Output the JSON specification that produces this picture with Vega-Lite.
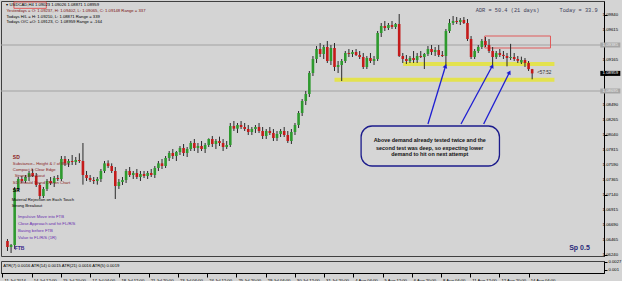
{
"$schema": "https://vega.github.io/schema/vega-lite/v6.json",
"background": "#d4d4d4",
"padding": 0,
"spacing": 1,
"config": {"view": {"stroke": "#404040", "strokeWidth": 1, "fill": "#d4d4d4"}, "font": "Liberation Sans", "axis": {"labelFont": "Liberation Sans", "labelColor": "#000000", "domainColor": "#000000", "tickColor": "#000000", "grid": false}},
"datasets": {
"candles": [
{"i":0,"o":1.06445,"h":1.06475,"l":1.06295,"c":1.06355},
{"i":1,"o":1.06355,"h":1.064,"l":1.06265,"c":1.06385},
{"i":2,"o":1.06385,"h":1.07255,"l":1.06325,"c":1.07225},
{"i":3,"o":1.07225,"h":1.07405,"l":1.07195,"c":1.07375},
{"i":4,"o":1.07375,"h":1.0742,"l":1.07315,"c":1.07345},
{"i":5,"o":1.07345,"h":1.07435,"l":1.07315,"c":1.07405},
{"i":6,"o":1.07405,"h":1.07495,"l":1.07345,"c":1.07465},
{"i":7,"o":1.07465,"h":1.07525,"l":1.07405,"c":1.0742},
{"i":8,"o":1.0742,"h":1.07465,"l":1.07255,"c":1.07285},
{"i":9,"o":1.07285,"h":1.07315,"l":1.07075,"c":1.0712},
{"i":10,"o":1.0712,"h":1.07255,"l":1.0709,"c":1.07225},
{"i":11,"o":1.07225,"h":1.07375,"l":1.07195,"c":1.07345},
{"i":12,"o":1.07345,"h":1.07405,"l":1.07285,"c":1.07315},
{"i":13,"o":1.07315,"h":1.0742,"l":1.07255,"c":1.0739},
{"i":14,"o":1.0739,"h":1.07435,"l":1.07345,"c":1.07375},
{"i":15,"o":1.07375,"h":1.0772,"l":1.07345,"c":1.07675},
{"i":16,"o":1.07675,"h":1.0772,"l":1.0757,"c":1.0761},
{"i":17,"o":1.0761,"h":1.07675,"l":1.07555,"c":1.07645},
{"i":18,"o":1.07645,"h":1.07735,"l":1.07585,"c":1.0763},
{"i":19,"o":1.0763,"h":1.07705,"l":1.07585,"c":1.0766},
{"i":20,"o":1.0766,"h":1.0776,"l":1.07615,"c":1.07645},
{"i":21,"o":1.07645,"h":1.07915,"l":1.0729,"c":1.07435},
{"i":22,"o":1.07435,"h":1.07495,"l":1.07345,"c":1.0739},
{"i":23,"o":1.0739,"h":1.07435,"l":1.0733,"c":1.0736},
{"i":24,"o":1.0736,"h":1.07405,"l":1.073,"c":1.07345},
{"i":25,"o":1.07345,"h":1.07405,"l":1.0729,"c":1.07375},
{"i":26,"o":1.07375,"h":1.07525,"l":1.0733,"c":1.07495},
{"i":27,"o":1.07495,"h":1.07645,"l":1.07465,"c":1.0761},
{"i":28,"o":1.0761,"h":1.07655,"l":1.0754,"c":1.0757},
{"i":29,"o":1.0757,"h":1.0761,"l":1.07465,"c":1.07495},
{"i":30,"o":1.07495,"h":1.07555,"l":1.07075,"c":1.0727},
{"i":31,"o":1.0727,"h":1.07375,"l":1.07225,"c":1.0733},
{"i":32,"o":1.0733,"h":1.07405,"l":1.07285,"c":1.0736},
{"i":33,"o":1.0736,"h":1.07525,"l":1.07315,"c":1.07495},
{"i":34,"o":1.07495,"h":1.07555,"l":1.07405,"c":1.07435},
{"i":35,"o":1.07435,"h":1.07495,"l":1.07375,"c":1.07465},
{"i":36,"o":1.07465,"h":1.07525,"l":1.07375,"c":1.07405},
{"i":37,"o":1.07405,"h":1.07495,"l":1.07345,"c":1.0745},
{"i":38,"o":1.0745,"h":1.07495,"l":1.0739,"c":1.0742},
{"i":39,"o":1.0742,"h":1.07495,"l":1.07375,"c":1.07465},
{"i":40,"o":1.07465,"h":1.07525,"l":1.07405,"c":1.07435},
{"i":41,"o":1.07435,"h":1.0757,"l":1.0739,"c":1.0754},
{"i":42,"o":1.0754,"h":1.07645,"l":1.07495,"c":1.0761},
{"i":43,"o":1.0761,"h":1.07675,"l":1.07525,"c":1.0757},
{"i":44,"o":1.0757,"h":1.0772,"l":1.0754,"c":1.0769},
{"i":45,"o":1.0769,"h":1.07795,"l":1.07645,"c":1.07765},
{"i":46,"o":1.07765,"h":1.07825,"l":1.07675,"c":1.0772},
{"i":47,"o":1.0772,"h":1.07795,"l":1.07645,"c":1.0778},
{"i":48,"o":1.0778,"h":1.0787,"l":1.07735,"c":1.0784},
{"i":49,"o":1.0784,"h":1.079,"l":1.0772,"c":1.07765},
{"i":50,"o":1.07765,"h":1.07855,"l":1.07705,"c":1.07825},
{"i":51,"o":1.07825,"h":1.07945,"l":1.07795,"c":1.07915},
{"i":52,"o":1.07915,"h":1.07975,"l":1.07795,"c":1.0784},
{"i":53,"o":1.0784,"h":1.07915,"l":1.07765,"c":1.0787},
{"i":54,"o":1.0787,"h":1.07945,"l":1.07795,"c":1.07825},
{"i":55,"o":1.07825,"h":1.07915,"l":1.07765,"c":1.07885},
{"i":56,"o":1.07885,"h":1.07985,"l":1.07855,"c":1.07975},
{"i":57,"o":1.07975,"h":1.0802,"l":1.07855,"c":1.079},
{"i":58,"o":1.079,"h":1.07975,"l":1.07825,"c":1.07945},
{"i":59,"o":1.07945,"h":1.0801,"l":1.0787,"c":1.07915},
{"i":60,"o":1.07915,"h":1.07975,"l":1.07795,"c":1.07855},
{"i":61,"o":1.07855,"h":1.07945,"l":1.07825,"c":1.07885},
{"i":62,"o":1.07885,"h":1.08215,"l":1.07855,"c":1.0817},
{"i":63,"o":1.0817,"h":1.08245,"l":1.08095,"c":1.0813},
{"i":64,"o":1.0813,"h":1.08215,"l":1.08065,"c":1.08185},
{"i":65,"o":1.08185,"h":1.08245,"l":1.08125,"c":1.08155},
{"i":66,"o":1.08155,"h":1.08215,"l":1.08095,"c":1.08125},
{"i":67,"o":1.08125,"h":1.08185,"l":1.08035,"c":1.0808},
{"i":68,"o":1.0808,"h":1.08155,"l":1.08035,"c":1.08125},
{"i":69,"o":1.08125,"h":1.08185,"l":1.08065,"c":1.08155},
{"i":70,"o":1.08155,"h":1.08215,"l":1.08065,"c":1.08095},
{"i":71,"o":1.08095,"h":1.08155,"l":1.07975,"c":1.0802},
{"i":72,"o":1.0802,"h":1.08125,"l":1.07975,"c":1.08095},
{"i":73,"o":1.08095,"h":1.08155,"l":1.08035,"c":1.08065},
{"i":74,"o":1.08065,"h":1.08125,"l":1.07945,"c":1.0799},
{"i":75,"o":1.0799,"h":1.08095,"l":1.07945,"c":1.0805},
{"i":76,"o":1.0805,"h":1.08125,"l":1.08005,"c":1.08095},
{"i":77,"o":1.08095,"h":1.08155,"l":1.08005,"c":1.08035},
{"i":78,"o":1.08035,"h":1.08095,"l":1.07915,"c":1.07945},
{"i":79,"o":1.07945,"h":1.08125,"l":1.079,"c":1.0808},
{"i":80,"o":1.0808,"h":1.08215,"l":1.08035,"c":1.08185},
{"i":81,"o":1.08185,"h":1.08395,"l":1.0814,"c":1.08365},
{"i":82,"o":1.08365,"h":1.08575,"l":1.0832,"c":1.08545},
{"i":83,"o":1.08545,"h":1.08695,"l":1.08485,"c":1.0865},
{"i":84,"o":1.0865,"h":1.08995,"l":1.08605,"c":1.08965},
{"i":85,"o":1.08965,"h":1.0922,"l":1.0892,"c":1.09175},
{"i":86,"o":1.09175,"h":1.0937,"l":1.09115,"c":1.09325},
{"i":87,"o":1.09325,"h":1.09415,"l":1.09205,"c":1.0925},
{"i":88,"o":1.0925,"h":1.09385,"l":1.09175,"c":1.09355},
{"i":89,"o":1.09355,"h":1.09445,"l":1.09115,"c":1.09145},
{"i":90,"o":1.09145,"h":1.09385,"l":1.09085,"c":1.0934},
{"i":91,"o":1.0934,"h":1.09415,"l":1.08995,"c":1.09055},
{"i":92,"o":1.09055,"h":1.09145,"l":1.08965,"c":1.09085},
{"i":93,"o":1.09085,"h":1.09175,"l":1.08845,"c":1.09145},
{"i":94,"o":1.09145,"h":1.09295,"l":1.09115,"c":1.09265},
{"i":95,"o":1.09265,"h":1.09325,"l":1.09205,"c":1.0925},
{"i":96,"o":1.0925,"h":1.0931,"l":1.09205,"c":1.0928},
{"i":97,"o":1.0928,"h":1.09325,"l":1.0922,"c":1.09235},
{"i":98,"o":1.09235,"h":1.09295,"l":1.09175,"c":1.09205},
{"i":99,"o":1.09205,"h":1.09265,"l":1.09025,"c":1.09055},
{"i":100,"o":1.09055,"h":1.0922,"l":1.09025,"c":1.0919},
{"i":101,"o":1.0919,"h":1.09265,"l":1.09115,"c":1.09145},
{"i":102,"o":1.09145,"h":1.0922,"l":1.09085,"c":1.09175},
{"i":103,"o":1.09175,"h":1.09595,"l":1.09145,"c":1.09565},
{"i":104,"o":1.09565,"h":1.09715,"l":1.09505,"c":1.0967},
{"i":105,"o":1.0967,"h":1.09745,"l":1.09595,"c":1.0964},
{"i":106,"o":1.0964,"h":1.09715,"l":1.0961,"c":1.09685},
{"i":107,"o":1.09685,"h":1.09745,"l":1.09625,"c":1.09655},
{"i":108,"o":1.09655,"h":1.09715,"l":1.09625,"c":1.097},
{"i":109,"o":1.097,"h":1.0985,"l":1.09205,"c":1.0922},
{"i":110,"o":1.0922,"h":1.09265,"l":1.09115,"c":1.09175},
{"i":111,"o":1.09175,"h":1.09235,"l":1.091,"c":1.09145},
{"i":112,"o":1.09145,"h":1.0922,"l":1.09115,"c":1.0919},
{"i":113,"o":1.0919,"h":1.09295,"l":1.09115,"c":1.0916},
{"i":114,"o":1.0916,"h":1.09265,"l":1.09115,"c":1.0922},
{"i":115,"o":1.0922,"h":1.09295,"l":1.0919,"c":1.09205},
{"i":116,"o":1.09205,"h":1.09265,"l":1.09025,"c":1.0925},
{"i":117,"o":1.0925,"h":1.0937,"l":1.0922,"c":1.09325},
{"i":118,"o":1.09325,"h":1.09385,"l":1.09235,"c":1.0928},
{"i":119,"o":1.0928,"h":1.09355,"l":1.0922,"c":1.0931},
{"i":120,"o":1.0931,"h":1.09385,"l":1.09205,"c":1.09235},
{"i":121,"o":1.09235,"h":1.09295,"l":1.09205,"c":1.0922},
{"i":122,"o":1.0922,"h":1.09625,"l":1.0907,"c":1.09595},
{"i":123,"o":1.09595,"h":1.09775,"l":1.09565,"c":1.09715},
{"i":124,"o":1.09715,"h":1.0982,"l":1.09685,"c":1.09745},
{"i":125,"o":1.09745,"h":1.09805,"l":1.097,"c":1.0973},
{"i":126,"o":1.0973,"h":1.0979,"l":1.09685,"c":1.0976},
{"i":127,"o":1.0976,"h":1.09805,"l":1.097,"c":1.09715},
{"i":128,"o":1.09715,"h":1.09775,"l":1.09445,"c":1.09475},
{"i":129,"o":1.09475,"h":1.0952,"l":1.09175,"c":1.09205},
{"i":130,"o":1.09205,"h":1.09325,"l":1.09175,"c":1.09295},
{"i":131,"o":1.09295,"h":1.09385,"l":1.09265,"c":1.09355},
{"i":132,"o":1.09355,"h":1.09475,"l":1.09325,"c":1.09445},
{"i":133,"o":1.09445,"h":1.09505,"l":1.09355,"c":1.09385},
{"i":134,"o":1.09385,"h":1.09475,"l":1.09265,"c":1.09295},
{"i":135,"o":1.09295,"h":1.09355,"l":1.09055,"c":1.09205},
{"i":136,"o":1.09205,"h":1.09295,"l":1.09175,"c":1.09265},
{"i":137,"o":1.09265,"h":1.09325,"l":1.09205,"c":1.09235},
{"i":138,"o":1.09237,"h":1.09295,"l":1.09175,"c":1.0922},
{"i":139,"o":1.0922,"h":1.09265,"l":1.09065,"c":1.0919},
{"i":140,"o":1.0919,"h":1.09402,"l":1.0916,"c":1.09205},
{"i":141,"o":1.09205,"h":1.09265,"l":1.09145,"c":1.09175},
{"i":142,"o":1.09175,"h":1.0922,"l":1.09115,"c":1.09148},
{"i":143,"o":1.09123,"h":1.0921,"l":1.091,"c":1.0916},
{"i":144,"o":1.0916,"h":1.0919,"l":1.09055,"c":1.09115},
{"i":145,"o":1.09115,"h":1.09145,"l":1.08995,"c":1.09023},
{"i":146,"o":1.09023,"h":1.09026,"l":1.08871,"c":1.08959}
],
"notes": [
{"g":"info","i":-0.3,"p":1.09985,"txt":"▾ USDCAD,H4  1.09023 1.09026 1.08871 1.08959"},
{"g":"infoRed","i":-0.3,"p":1.09895,"txt":"Yesterdays = O: 1.09237, H: 1.09402, L: 1.09065, C: 1.09148 Range = 337"},
{"g":"info","i":-0.3,"p":1.0981,"txt":"Todays H/L = H: 1.09210, L: 1.08871 Range = 339"},
{"g":"info","i":-0.3,"p":1.09725,"txt":"Todays O/C =O: 1.09123, C: 1.08959 Range = -164"},
{"g":"red","i":1.5,"p":1.076,"txt":"Substance– Height & # of Bars"},
{"g":"red","i":1.5,"p":1.0751,"txt":"Compact & Clear Edge"},
{"g":"red","i":2.0,"p":1.0742,"txt":"Strong Breakout"},
{"g":"red","i":1.5,"p":1.07315,"txt":"SD Should Stand Out on Chart"},
{"g":"black","i":1.2,"p":1.0706,"txt":"Material Rejection on Each Touch"},
{"g":"black","i":1.2,"p":1.0697,"txt":"Strong Breakout"},
{"g":"purple","i":2.9,"p":1.06805,"txt":"Impulsive Move into FTB"},
{"g":"purple","i":2.9,"p":1.067,"txt":"Close Approach and hit FL/R/S"},
{"g":"purple","i":2.9,"p":1.06595,"txt":"Basing before FTB"},
{"g":"purple","i":2.9,"p":1.0649,"txt":"Value to FL/R/S (1R)"}
],
"bold": [
{"g":"red","i":1.5,"p":1.07705,"txt":"SD"},
{"g":"black","i":1.5,"p":1.0721,"txt":"SR"},
{"g":"ftb","i":2.0,"p":1.0634,"txt":"FTB"}
],
"box": [
{"i":117.5,"p":1.07955,"txt":"Above demand already tested twice and the"},
{"i":117.5,"p":1.07845,"txt":"second test was deep, so expecting lower"},
{"i":117.5,"p":1.07745,"txt":"demand to hit on next attempt"}
],
"arrows": [
{"k":"a1","i1":117.0,"p1":1.082,"i2":121.9,"p2":1.0907},
{"k":"a2","i1":126.2,"p1":1.082,"i2":134.9,"p2":1.0907},
{"k":"a3","i1":132.5,"p1":1.082,"i2":139.7,"p2":1.08975}
],
"ylabels": [
{"p":1.0624,"txt":"1.06240"},{"p":1.06465,"txt":"1.06465"},{"p":1.0669,"txt":"1.06690"},{"p":1.06915,"txt":"1.06915"},{"p":1.0714,"txt":"1.07140"},{"p":1.07365,"txt":"1.07365"},{"p":1.0759,"txt":"1.07590"},{"p":1.07815,"txt":"1.07815"},{"p":1.0804,"txt":"1.08040"},{"p":1.08265,"txt":"1.08265"},{"p":1.0849,"txt":"1.08490"},{"p":1.09165,"txt":"1.09165"},{"p":1.09615,"txt":"1.09615"},{"p":1.0984,"txt":"1.09840"}
],
"tags": [
{"kind":"grey","p":1.09385,"txt":"1.09385"},
{"kind":"black","p":1.08959,"txt":"1.08959"},
{"kind":"grey","p":1.08695,"txt":"1.08695"}
]
},
"vconcat": [
{
"width": 603,
"height": 255,
"resolve": {"scale": {"color": "independent"}},
"layer": [
{
"data": {"values": [{"p":1.09385},{"p":1.08695}]},
"mark": {"type":"rule","color":"#a2a2a2","strokeWidth":1},
"encoding": {"y": {"field":"p","type":"quantitative","title":null,"scale":{"domain":[1.0622,1.10045],"nice":false,"zero":false},"axis":{"orient":"right","values":[1.0624,1.06465,1.0669,1.06915,1.0714,1.07365,1.0759,1.07815,1.0804,1.08265,1.0849,1.08715,1.0894,1.09165,1.0939,1.09615,1.0984],"labels":false,"tickSize":3}}}
},
{
"data": {"values": [{"i1":110.1,"i2":152.2,"p":1.091},{"i1":91.0,"i2":152.2,"p":1.08865}]},
"mark": {"type":"rule","color":"#e3e24e","strokeWidth":4},
"encoding": {"x": {"field":"i1","type":"quantitative","title":null,"axis":null,"scale":{"domain":[-0.41,164.6],"nice":false,"zero":false}},"x2":{"field":"i2"},"y":{"field":"p","type":"quantitative","title":null}}
},
{
"data": {"values": [{"i1":132.8,"i2":151.1,"p1":1.0952,"p2":1.0934},{"i1":1.8,"i2":10.8,"p1":1.1003,"p2":1.09935}]},
"mark": {"type":"rect","stroke":"#e05a5a","strokeWidth":1,"fillOpacity":0},
"encoding": {"x": {"field":"i1","type":"quantitative","title":null,"axis":null},"x2":{"field":"i2"},"y":{"field":"p1","type":"quantitative","title":null},"y2":{"field":"p2"}}
},
{
"data": {"name":"candles"},
"mark": {"type":"rule","color":"#2a2a2a","strokeWidth":1},
"encoding": {"x": {"field":"i","type":"quantitative","title":null,"axis":null},"y":{"field":"l","type":"quantitative","title":null},"y2":{"field":"h"}}
},
{
"data": {"name":"candles"},
"mark": {"type":"bar","size":2.6},
"encoding": {"x": {"field":"i","type":"quantitative","title":null,"axis":null},"y":{"field":"o","type":"quantitative","title":null},"y2":{"field":"c"},"color":{"condition":{"test":"datum.c >= datum.o","value":"#2e9a2e"},"value":"#c41a1a"}}
},
{
"data": {"values": [{"i1":98.4,"i2":136.9,"p1":1.0817,"p2":1.0757}]},
"mark": {"type":"rect","stroke":"#1c1c8c","strokeWidth":1.3,"fill":"#d6d6d6","cornerRadius":11},
"encoding": {"x": {"field":"i1","type":"quantitative","title":null,"axis":null},"x2":{"field":"i2"},"y":{"field":"p1","type":"quantitative","title":null},"y2":{"field":"p2"}}
},
{
"data": {"name":"box"},
"mark": {"type":"text","fontSize":5.4,"fontWeight":"bold","align":"center","baseline":"middle","color":"#111111"},
"encoding": {"x": {"field":"i","type":"quantitative","title":null,"axis":null},"y":{"field":"p","type":"quantitative","title":null},"text":{"field":"txt"}}
},
{
"data": {"name":"arrows"},
"mark": {"type":"rule","color":"#1e1ed2","strokeWidth":1.3},
"encoding": {"x": {"field":"i1","type":"quantitative","title":null,"axis":null},"x2":{"field":"i2"},"y":{"field":"p1","type":"quantitative","title":null},"y2":{"field":"p2"}}
},
{
"data": {"name":"arrows"},
"mark": {"type":"point","shape":"triangle-up","filled":true,"color":"#1e1ed2","size":22,"opacity":1},
"encoding": {"x": {"field":"i2","type":"quantitative","title":null,"axis":null},"y":{"field":"p2","type":"quantitative","title":null},"angle":{"field":"k","type":"nominal","scale":{"domain":["a1","a2","a3"],"range":[17,29,28]},"legend":null}}
},
{
"data": {"name":"notes"},
"mark": {"type":"text","fontSize":4.2,"align":"left","baseline":"middle"},
"encoding": {"x": {"field":"i","type":"quantitative","title":null,"axis":null},"y":{"field":"p","type":"quantitative","title":null},"text":{"field":"txt"},"color":{"field":"g","type":"nominal","legend":null,"scale":{"domain":["info","infoRed","red","black","purple"],"range":["#000000","#7a1010","#8b1c1c","#000000","#6a2fb0"]}}}
},
{
"data": {"name":"bold"},
"mark": {"type":"text","fontSize":5,"fontWeight":"bold","align":"left","baseline":"middle"},
"encoding": {"x": {"field":"i","type":"quantitative","title":null,"axis":null},"y":{"field":"p","type":"quantitative","title":null},"text":{"field":"txt"},"color":{"field":"g","type":"nominal","legend":null,"scale":{"domain":["red","black","ftb"],"range":["#8b1c1c","#000000","#3a2a8a"]}}}
},
{
"data": {"values": [{"i":130.3,"p":1.0991,"txt":"ADR = 50.4  (21 days)"},{"i":153.6,"p":1.0991,"txt":"Today = 33.9"}]},
"mark": {"type":"text","font":"Liberation Mono","fontSize":5.3,"align":"left","baseline":"middle","color":"#404058"},
"encoding": {"x": {"field":"i","type":"quantitative","title":null,"axis":null},"y":{"field":"p","type":"quantitative","title":null},"text":{"field":"txt"}}
},
{
"data": {"values": [{"i":156.3,"p":1.0634,"txt":"Sp 0.5"}]},
"mark": {"type":"text","fontSize":7,"fontWeight":"bold","align":"left","baseline":"middle","color":"#2a2a7a"},
"encoding": {"x": {"field":"i","type":"quantitative","title":null,"axis":null},"y":{"field":"p","type":"quantitative","title":null},"text":{"field":"txt"}}
},
{
"data": {"values": [{"i":147.4,"p":1.0896,"txt":"<57:52"}]},
"mark": {"type":"text","fontSize":4.6,"align":"left","baseline":"middle","color":"#303030"},
"encoding": {"x": {"field":"i","type":"quantitative","title":null,"axis":null},"y":{"field":"p","type":"quantitative","title":null},"text":{"field":"txt"}}
},
{
"data": {"name":"ylabels"},
"mark": {"type":"text","fontSize":4.3,"align":"left","baseline":"middle","color":"#000000"},
"encoding": {"x":{"datum":165.6,"type":"quantitative"},"y":{"field":"p","type":"quantitative","title":null},"text":{"field":"txt"}}
},
{
"data": {"name":"tags"},
"mark": {"type":"tick","orient":"horizontal","size":20,"thickness":5,"opacity":1},
"encoding": {"x":{"datum":167.75,"type":"quantitative"},"y":{"field":"p","type":"quantitative","title":null},"color":{"field":"kind","type":"nominal","legend":null,"scale":{"domain":["grey","black"],"range":["#a6a6a6","#000000"]}}}
},
{
"data": {"name":"tags"},
"mark": {"type":"text","fontSize":4.3,"align":"left","baseline":"middle"},
"encoding": {"x":{"datum":165.6,"type":"quantitative"},"y":{"field":"p","type":"quantitative","title":null},"text":{"field":"txt"},"color":{"field":"kind","type":"nominal","legend":null,"scale":{"domain":["grey","black"],"range":["#ececec","#ffffff"]}}}
}
]
},
{
"width": 603,
"height": 12,
"data": {"values": [{"i":0.2,"v":0.00185,"txt":"ATR(7) 0.0016  ATR(14) 0.0015  ATR(21) 0.0016  ATR(5) 0.0019"}]},
"mark": {"type":"text","fontSize":4.2,"align":"left","baseline":"middle","color":"#000000"},
"encoding": {
"x": {"field":"i","type":"quantitative","title":null,"scale":{"domain":[-0.41,164.6],"nice":false,"zero":false},"axis":{"values":[0,8,16,24,32,40,48,56,64,72,80,88,96,104,112,120,128,136,144],"labelExpr":"['11 Jul 2014','14 Jul 12:00','15 Jul 20:00','17 Jul 04:00','18 Jul 12:00','21 Jul 20:00','23 Jul 04:00','24 Jul 12:00','25 Jul 20:00','29 Jul 04:00','30 Jul 12:00','31 Jul 20:00','4 Aug 04:00','5 Aug 12:00','6 Aug 20:00','8 Aug 04:00','11 Aug 12:00','12 Aug 20:00','14 Aug 04:00'][round(datum.value/8)]","labelAlign":"left","labelFontSize":4.2,"tickSize":4,"labelPadding":1,"labelOffset":1.5,"labelOverlap":false,"labelFlush":false}},
"y": {"field":"v","type":"quantitative","title":null,"scale":{"domain":[0.00036,0.00291],"nice":false,"zero":false},"axis":{"orient":"right","values":[0.001,0.0027],"format":".4~f","labelFontSize":4.2,"tickSize":3,"labelPadding":1,"labelBaseline":"middle","labelOverlap":false}},
"text": {"field":"txt"}
}
}
]
}
